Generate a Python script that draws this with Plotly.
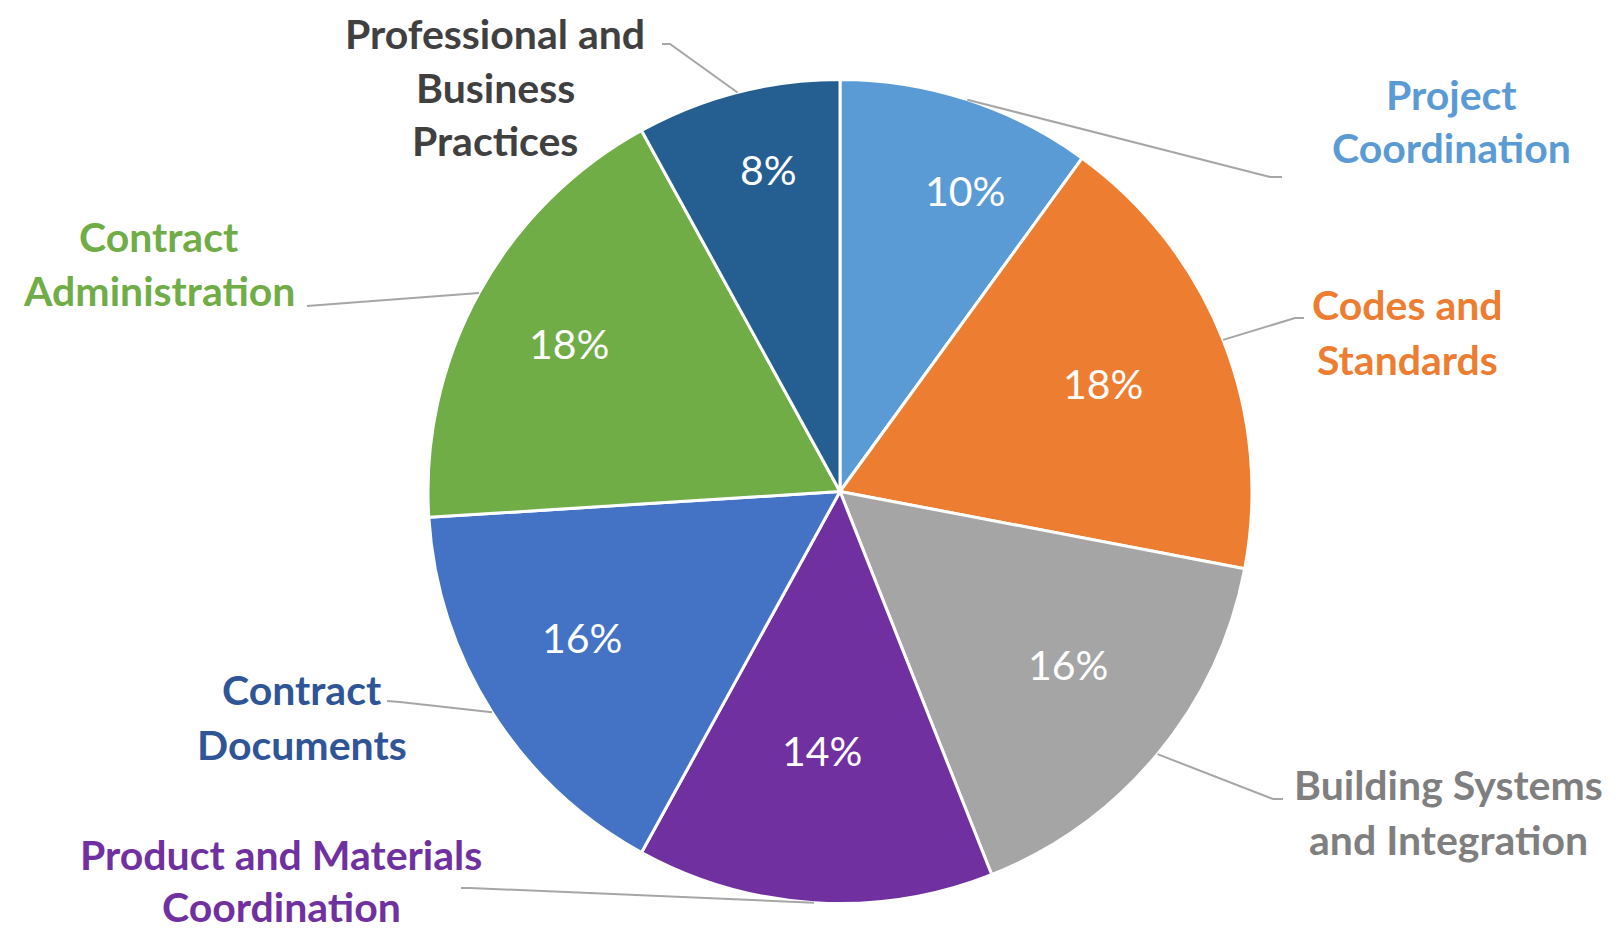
import math
import plotly.graph_objects as go

# ---------------- data ----------------
categories = [
    "Project Coordination",
    "Codes and Standards",
    "Building Systems and Integration",
    "Product and Materials Coordination",
    "Contract Documents",
    "Contract Administration",
    "Professional and Business Practices",
]
shares = [10, 18, 16, 14, 16, 18, 8]
label_lines = [
    ["Project", "Coordination"],
    ["Codes and", "Standards"],
    ["Building Systems", "and Integration"],
    ["Product and Materials", "Coordination"],
    ["Contract", "Documents"],
    ["Contract", "Administration"],
    ["Professional and", "Business", "Practices"],
]
slice_colors = ["#5B9BD5", "#ED7D31", "#A5A5A5", "#7030A0", "#4472C4", "#70AD47", "#255E91"]
label_colors = ["#5B9BD5", "#ED7D31", "#7F7F7F", "#7030A0", "#2F5597", "#70AD47", "#404040"]

# ---------------- layout (page pixels) ----------------
W, H = 1616, 933
OFF = 8  # default page body margin
CX, CY, R = 840.0, 491.5, 412.0

# label block: centre x, y of first line, line spacing
label_pos = [
    (1451, 94, 54),
    (1407, 304, 55),
    (1448, 784, 55),
    (281, 854, 52),
    (302, 689, 55),
    (159, 236, 54),
    (495, 34, 53),
]
# leader elbow and end points
leader_pts = [
    ((1270, 177), (1282, 177)),
    ((1295, 318), (1304, 318)),
    ((1273, 799), (1283, 799)),
    ((470, 888), (461, 888)),
    ((400, 702), (387, 701)),
    ((320, 305), (307, 306)),
    ((670, 44), (662, 44)),
]
# percent label placement: radial fraction of radius, angular nudge (deg)
pct_place = [
    (0.79, 4.5),
    (0.69, -0.8),
    (0.695, -2.5),
    (0.63, 0.3),
    (0.72, 3.0),
    (0.75, -0.2),
    (0.80, 1.8),
]


def px(x):
    return (x - OFF) / W


def py(y):
    return 1 - (y - OFF) / H


fig = go.Figure(
    go.Pie(
        labels=categories,
        values=shares,
        sort=False,
        direction="clockwise",
        rotation=0,
        marker=dict(colors=slice_colors, line=dict(color="white", width=3)),
        textinfo="none",
        hoverinfo="skip",
        showlegend=False,
        domain=dict(x=[px(CX - R), px(CX + R)], y=[py(CY + R), py(CY - R)]),
    )
)

annotations = []
shapes = []
total = sum(shares)
cum = 0.0
for i, v in enumerate(shares):
    mid = (cum + v / 2) / total * 2 * math.pi
    cum += v
    # leader line
    sx = CX + R * math.sin(mid)
    sy = CY - R * math.cos(mid)
    (ex, ey), (tx, ty) = leader_pts[i]
    shapes.append(dict(
        type="path", xref="paper", yref="paper",
        path=f"M {px(sx)},{py(sy)} L {px(ex)},{py(ey)} L {px(tx)},{py(ty)}",
        line=dict(color="#A6A6A6", width=2),
    ))
    # category label
    lx, ly, sp = label_pos[i]
    for j, line in enumerate(label_lines[i]):
        annotations.append(dict(
            x=px(lx), y=py(ly + j * sp), xref="paper", yref="paper",
            text=f"<b>{line}</b>", showarrow=False,
            xanchor="center", yanchor="middle",
            font=dict(family="Lato", size=41, color=label_colors[i]),
        ))
    # percent label
    frac, nudge = pct_place[i]
    a = mid + math.radians(nudge)
    qx = CX + frac * R * math.sin(a)
    qy = CY - frac * R * math.cos(a)
    annotations.append(dict(
        x=px(qx), y=py(qy), xref="paper", yref="paper",
        text=f"{round(v / total * 100)}%", showarrow=False,
        xanchor="center", yanchor="middle",
        font=dict(family="Lato", size=41, color="white"),
    ))

fig.update_layout(
    width=W, height=H,
    margin=dict(l=0, r=0, t=0, b=0),
    paper_bgcolor="white", plot_bgcolor="white",
    annotations=annotations, shapes=shapes,
)

fig.write_html("out.html")
